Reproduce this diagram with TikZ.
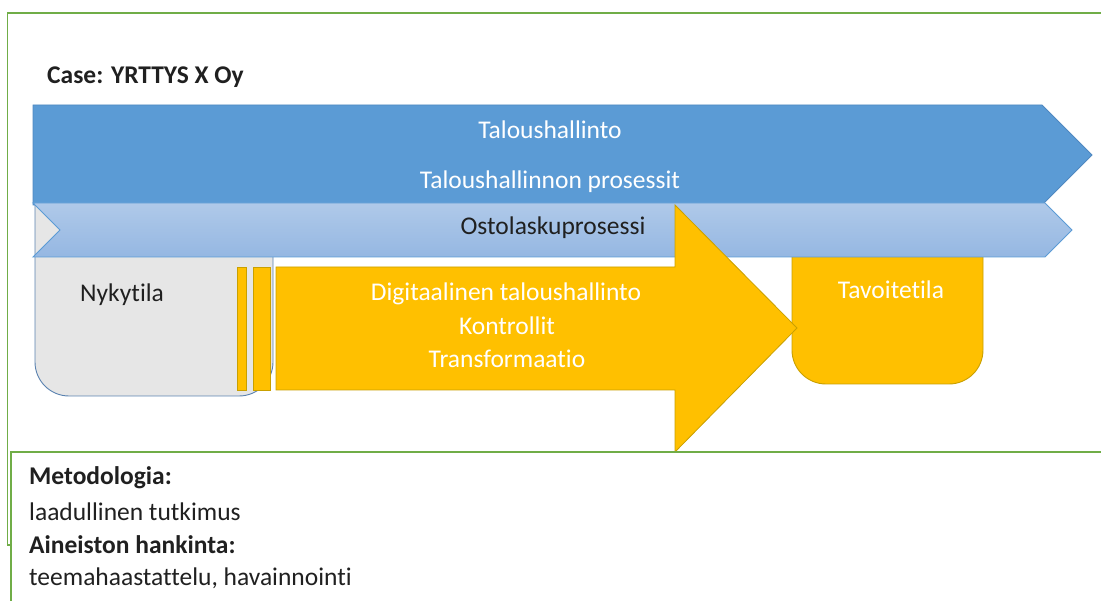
\documentclass[tikz,border=0pt]{standalone}
\usepackage{fontspec}
\setmainfont{Carlito}[Ligatures={NoCommon}]
\definecolor{framegreen}{HTML}{70AD47}
\definecolor{blueA}{HTML}{5B9BD5}
\definecolor{blueB}{HTML}{4F88C0}
\definecolor{lightTop}{HTML}{AFC9E9}
\definecolor{lightBot}{HTML}{95B7E2}
\definecolor{goldA}{HTML}{FFC000}
\definecolor{goldB}{HTML}{C9A000}
\definecolor{greyA}{HTML}{E6E6E6}
\definecolor{greyB}{HTML}{5A82B0}
\definecolor{ink}{HTML}{202020}
\tikzset{
  frameline/.style={draw=framegreen, line width=1.6pt},
  bigarrow/.style={fill=blueA, draw=blueB, line width=0.8pt},
  chevronbar/.style={top color=lightTop, bottom color=lightBot, draw=blueA, line width=0.9pt},
  yellowshape/.style={fill=goldA, draw=goldB, line width=0.8pt},
  statebox/.style={rounded corners=34pt, line width=0.9pt},
  txt/.style={font=\fontsize{25.5}{30}\selectfont, inner sep=0pt},
  lighttxt/.style={txt, text=white},
  darktxt/.style={txt, text=ink},
  boldtxt/.style={txt, text=ink, font=\fontsize{25.5}{30}\selectfont\bfseries},
}
\begin{document}
\begin{tikzpicture}[x=1pt, y=-1pt]
\useasboundingbox (0,0) rectangle (1101,601);

% outer frames
\draw[frameline] (7.5,13) rectangle (1130,545);

% Taloushallinto arrow
\draw[bigarrow] (33,105) -- (1042,105) -- (1092,155) -- (1042,205) -- (33,205) -- cycle;

% current state (grey) and target state (yellow) boxes
\filldraw[statebox, fill=greyA, draw=greyB] (35,205) -- (35,396) -- (273,396) -- (273,205);
\filldraw[statebox, fill=goldA, draw=goldB] (792,205) -- (792,384) -- (983,384) -- (983,205);

% Ostolaskuprosessi chevron
\draw[chevronbar] (33,203) -- (1045,203) -- (1072,230) -- (1045,257) -- (33,257) -- (60,230) -- cycle;

% transformation arrow with its two leading bars
\draw[yellowshape] (237.5,267) rectangle (246.5,390);
\draw[yellowshape] (253.5,267) rectangle (270,390);
\draw[yellowshape] (276,267) -- (675,267) -- (675,205) -- (797,328) -- (675,452) -- (675,390) -- (276,390) -- cycle;

% methodology panel
\filldraw[frameline, fill=white] (11,452) rectangle (1130,640);

% texts
\node[boldtxt, anchor=west] (case) at (47,77) {Case: YRTTYS X Oy};
\node[lighttxt] (th) at (550,130) {Taloushallinto};
\node[lighttxt] (thp) at (550,182) {Taloushallinnon prosessit};
\node[darktxt] (olp) at (553,228) {Ostolaskuprosessi};
\node[darktxt, anchor=west] (nyk) at (80,295) {Nykytila};
\node[lighttxt] (tav) at (891,290) {Tavoitetila};
\node[lighttxt] (dig) at (506,294) {Digitaalinen taloushallinto};
\node[lighttxt] (kon) at (507,326) {Kontrollit};
\node[lighttxt] (tra) at (507,359) {Transformaatio};
\node[boldtxt, anchor=west] (met) at (29,478) {Metodologia:};
\node[darktxt, anchor=west] (laa) at (29,512) {laadullinen tutkimus};
\node[boldtxt, anchor=west] (ain) at (29,545) {Aineiston hankinta:};
\node[darktxt, anchor=west] (tee) at (29,578) {teemahaastattelu, havainnointi};
\end{tikzpicture}
\end{document}
